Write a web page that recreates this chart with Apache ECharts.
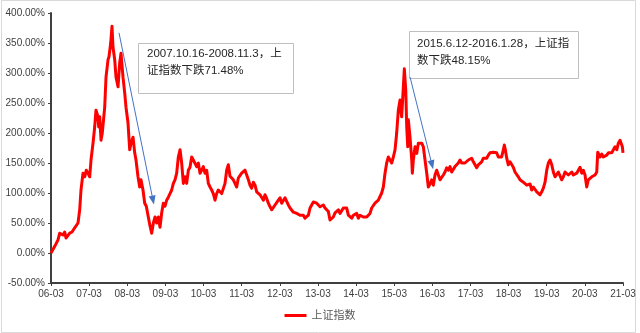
<!DOCTYPE html>
<html>
<head>
<meta charset="utf-8">
<script src="https://cdn.jsdelivr.net/npm/echarts@6/dist/echarts.min.js"></script>
<style>
  html, body { margin: 0; padding: 0; background: #ffffff; }
  #chart { width: 640px; height: 333px; }
</style>
</head>
<body>
<div id="chart"></div>
<script>
// Shanghai Composite: cumulative change since March 2006 (%)
// x values are months elapsed since 2006-03
const monthsSinceMar2006 = [
  0, 1.26, 2.20, 2.74, 3.78, 4.31, 4.72, 5.89, 6.61, 7.46, 8.50, 9.03, 9.44, 10.07, 10.61,
  11.11, 11.64, 12.18, 12.59, 13.22, 13.75, 14.16, 14.79, 15.01, 15.33, 15.74, 16.14, 16.90,
  17.31, 17.94, 18.25, 18.79, 19.20, 19.51, 20.05, 20.46, 21.09, 21.62, 22.03, 22.66, 23.19,
  23.60, 24.23, 24.77, 25.18, 25.81, 26.34, 26.75, 27.38, 27.91, 28.32, 28.95, 29.49, 29.99,
  30.62,
  31.16, 31.68, 32.21, 32.73, 33.26, 33.78, 34.31, 34.83, 35.35, 35.88, 36.40, 36.93, 37.45,
  37.98, 38.50, 39.02, 39.55, 40.07, 40.60, 41.12, 41.65, 42.17, 42.69, 43.22, 43.74, 44.27,
  44.79, 45.32, 45.84, 46.37, 46.89, 47.41, 47.94, 48.46, 48.99, 49.51, 50.04, 50.56, 51.08,
  51.61, 52.13, 52.66, 53.18, 53.71, 54.23, 54.76, 55.28, 55.80, 56.33, 56.85, 57.38, 57.90,
  58.43, 58.95, 59.48, 60.00, 60.52, 61.05,
  61.59, 62.11, 62.63, 63.16, 63.68, 64.21, 64.73, 65.26, 65.78, 66.31, 66.83, 67.35, 67.88,
  68.40, 68.93, 69.45, 69.98, 70.50, 71.02, 71.55, 72.07, 72.60, 73.12, 73.65, 74.17, 74.70,
  75.22, 75.74, 76.27, 76.79, 77.32, 77.84, 78.37, 78.89, 79.41, 79.94, 80.46, 80.99, 81.51,
  82.04, 82.56, 83.08, 83.61, 84.13, 84.66, 85.18, 85.71, 86.23, 86.76, 87.28, 87.80, 88.33,
  88.85, 89.38, 89.90, 90.43,
  90.95, 91.48, 92.00, 92.53, 93.05, 93.57, 94.10, 94.62, 95.15, 95.67, 96.20, 96.72, 97.24,
  97.77, 98.29, 98.82, 99.34, 99.87, 100.39, 100.91, 101.44, 101.96, 102.49, 103.01, 103.54,
  104.06, 104.58, 105.11, 105.63, 106.16, 106.68, 107.21, 107.73, 108.26, 108.78, 109.30,
  109.83, 110.35, 110.88, 111.19, 111.63, 111.94, 112.26, 112.45, 112.98, 113.52, 113.71,
  114.02, 114.56, 115.09, 115.60, 116.13, 116.67, 117.17, 117.70, 118.24, 118.74, 119.27,
  119.81, 120.31,
  120.84, 121.37, 121.89, 122.42, 122.94, 123.46, 123.99, 124.51, 125.04, 125.56, 126.09,
  126.61, 127.13, 127.66, 128.18, 128.71, 129.23, 129.76, 130.28, 130.80, 131.33, 131.85,
  132.38, 132.90, 133.43, 133.95, 134.47, 135.00, 135.52, 136.05, 136.57, 137.10, 137.62,
  138.14, 138.67, 139.19, 139.72, 140.24, 140.77, 141.29, 141.81, 142.34, 142.66, 142.97,
  143.41, 143.91, 144.45, 144.98, 145.48, 146.02, 146.55, 147.06, 147.59, 148.12, 148.63,
  149.17,
  149.71, 150.21, 150.75, 151.28, 151.79, 152.32, 152.86, 153.36, 153.89, 154.43, 154.93,
  155.47, 156.00, 156.51, 157.04, 157.58, 158.08, 158.61, 159.15, 159.65, 160.19, 160.72,
  161.23, 161.76, 162.30, 162.80, 163.33, 163.87, 164.37, 164.91, 165.44, 165.95, 166.48,
  167.01, 167.52, 168.05, 168.59, 169.09, 169.63, 170.16, 170.67, 171.20, 171.74, 172.05,
  172.36, 172.78, 173.31, 173.82, 174.35, 174.89, 175.39, 175.93, 176.46, 176.97, 177.50,
  178.04, 178.54, 179.07, 179.50, 179.80, 180.00
];

const indexChangePct = [
  0, 12, 22, 33, 30, 35, 25, 33, 35, 42, 50, 72, 105, 133, 127,
  138, 133, 127, 155, 183, 210, 238, 227, 210, 227, 188, 200, 243,
  293, 322, 327, 350, 378, 343, 322, 293, 277, 317, 333, 293, 267,
  243, 217, 172, 183, 193, 167, 155, 127, 110, 122, 105, 83, 78,
  60,
  45, 33, 50, 60, 50, 60, 43, 67, 83, 78, 88, 93, 99,
  105, 116, 122, 133, 160, 172, 150, 116, 127, 116, 138, 143, 160,
  155, 158, 144, 150, 133, 138, 144, 133, 138, 116, 110, 105, 99,
  88, 99, 105, 102, 99, 102, 116, 138, 147, 128, 125, 122, 116,
  110, 125, 128, 133, 135, 138,
  130, 122, 113, 108, 118, 113, 102, 105, 97, 94, 88, 97, 91,
  83, 77, 72, 75, 80, 83, 88, 92, 83, 86, 92, 86, 80,
  75, 72, 68, 66, 66, 63, 63, 60, 63, 58, 55, 63, 75,
  80, 85, 88, 83, 80, 77, 75, 80, 75, 77, 69, 55, 58,
  60, 67, 68, 72,
  66, 63, 75, 72, 75, 63, 60, 58, 63, 60, 66, 58, 63,
  60, 60, 58, 60, 63, 66, 75, 77, 83, 80, 88, 91,
  100, 110, 133, 150, 160, 155, 150, 160, 172, 200, 238,
  255, 227, 277, 307, 272, 210, 177, 222, 193, 155, 133,
  155, 177, 166, 183, 185, 183, 177, 155, 133, 110, 115,
  122, 113,
  130, 138, 130, 122, 125, 130, 135, 142, 138, 144, 135,
  138, 144, 147, 150, 155, 150, 147, 150, 152, 155, 155,
  158, 152, 147, 142, 147, 150, 152, 158, 161, 158, 163,
  167, 167, 168, 168, 167, 160, 163, 160, 172, 180, 172,
  158, 147, 152, 149, 143, 135, 138, 127, 122, 124, 118,
  116,
  113, 113, 115, 105, 110, 108, 102, 105, 97, 102, 108,
  118, 138, 150, 155, 147, 135, 127, 125, 135, 133, 122,
  127, 135, 133, 130, 133, 135, 130, 127, 133, 138, 143,
  133, 138, 130, 110, 122, 124, 127, 127, 130, 135, 168,
  165, 160, 165, 160, 158, 163, 167, 169, 167, 168, 177,
  172, 183, 188, 186, 177, 167
];

// Annotated drawdowns: start/end of each arrow in [months, %]
const arrowStart = [[21.4, 367], [113.0, 293]];
const arrowEnd = [[32.1, 88], [119.9, 147]];
const noteTexts = [
  '2007.10.16-2008.11.3，上\n证指数下跌71.48%',
  '2015.6.12-2016.1.28，上证指\n数下跌48.15%'
];

const seriesName = '上证指数';

const FONT = '"Liberation Sans", "Noto Sans CJK SC", sans-serif';

const lineData = monthsSinceMar2006.map((m, i) => [m, indexChangePct[i]]);

const chart = echarts.init(document.getElementById('chart'), null, { renderer: 'canvas' });

chart.setOption({
  animation: false,
  backgroundColor: '#ffffff',
  textStyle: { fontFamily: FONT },
  grid: { left: 51, right: 17, top: 13, bottom: 50, containLabel: false },
  legend: {
    data: [{ name: seriesName, icon: 'rect' }],
    left: 'center',
    top: 305,
    itemWidth: 22,
    itemHeight: 3,
    itemGap: 6,
    textStyle: { fontSize: 11, color: '#595959', fontFamily: FONT }
  },
  xAxis: {
    type: 'value',
    min: 0,
    max: 180,
    interval: 12,
    axisLine: { onZero: false, lineStyle: { color: '#404040', width: 2 } },
    axisTick: { show: true, length: 3, inside: false, lineStyle: { color: '#404040', width: 1 } },
    splitLine: { show: false },
    axisLabel: {
      fontSize: 10,
      color: '#404040',
      margin: 6,
      formatter: v => String(6 + v / 12).padStart(2, '0') + '-03'
    }
  },
  yAxis: {
    type: 'value',
    min: -50,
    max: 400,
    interval: 50,
    axisLine: { show: true, lineStyle: { color: '#404040', width: 2 } },
    axisTick: { show: true, length: 3, lineStyle: { color: '#404040', width: 1 } },
    splitLine: { show: false },
    axisLabel: {
      fontSize: 10,
      color: '#404040',
      margin: 6,
      formatter: v => v.toFixed(2) + '%'
    }
  },
  series: [{
    name: seriesName,
    type: 'line',
    data: lineData,
    showSymbol: false,
    symbol: 'none',
    lineStyle: { color: '#ff0000', width: 3, join: 'round' },
    itemStyle: { color: '#ff0000' },
    markLine: {
      silent: true,
      symbol: ['none', 'triangle'],
      symbolSize: [7, 9],
      label: { show: false },
      lineStyle: { color: '#4472c4', width: 1, type: 'solid' },
      itemStyle: { color: '#4472c4' },
      data: arrowStart.map((s, i) => [{ coord: s }, { coord: arrowEnd[i] }])
    },
    z: 3
  }],
  graphic: [
    // outer chart frame
    {
      type: 'rect', silent: true, z: 0,
      shape: { x: 1.5, y: 0.5, width: 634, height: 332 },
      style: { fill: 'none', stroke: '#d9d9d9', lineWidth: 1 }
    },
    {
      type: 'group', z: 10,
      children: [
        {
          type: 'rect',
          shape: { x: 138.5, y: 43.5, width: 155, height: 50 },
          style: { fill: '#ffffff', stroke: '#bfbfbf', lineWidth: 1 }
        },
        {
          type: 'text', x: 147, y: 45,
          style: { text: noteTexts[0], font: '11.5px ' + FONT, fill: '#262626', lineHeight: 17 }
        },
        {
          type: 'rect',
          shape: { x: 409.5, y: 31.5, width: 169, height: 47 },
          style: { fill: '#ffffff', stroke: '#bfbfbf', lineWidth: 1 }
        },
        {
          type: 'text', x: 417, y: 35,
          style: { text: noteTexts[1], font: '11.5px ' + FONT, fill: '#262626', lineHeight: 17 }
        }
      ]
    }
  ]
});
</script>
</body>
</html>
